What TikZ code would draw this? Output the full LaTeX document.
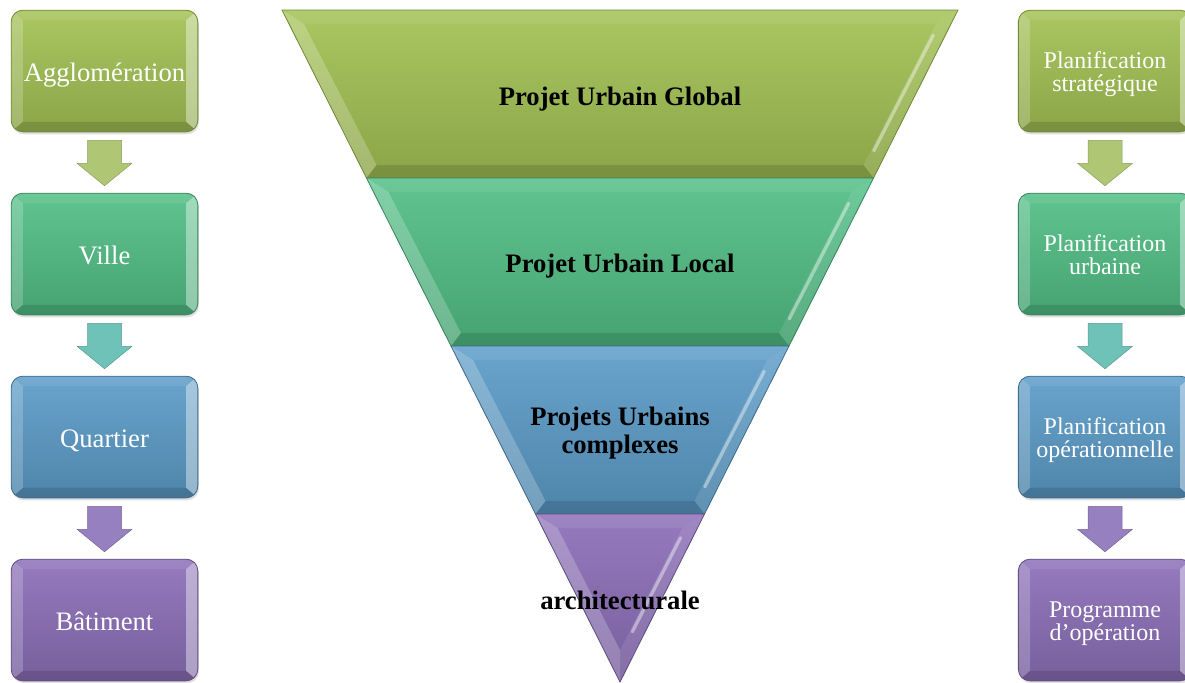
\documentclass[tikz,border=0pt]{standalone}
\usepackage{fontspec}
\setmainfont{Liberation Serif}
\usetikzlibrary{calc}
\usetikzlibrary{shadows}
\usepackage{xcolor}

\definecolor{cLime}{HTML}{A3C254}
\definecolor{cGreen}{HTML}{52BF86}
\definecolor{cBlue}{HTML}{5C9CC8}
\definecolor{cPurple}{HTML}{8C6FB8}
\definecolor{aLime}{HTML}{AFC774}
\definecolor{aTeal}{HTML}{6EC2B8}
\definecolor{aPurple}{HTML}{9680C0}

\tikzset{
  bevelbox/.style={draw=#1!70!black, line width=0.5pt, rounded corners=7pt,
    top color=#1!92!white, bottom color=#1!85!black,
    drop shadow={opacity=0.25, shadow xshift=0.6pt, shadow yshift=-1.5pt},
    minimum width=112pt, minimum height=73pt, inner sep=0pt,
    text height=14pt, text depth=1.4pt,
    align=center, text=white, font=\fontsize{16}{17}\selectfont,
    path picture={
      \coordinate (nw) at (path picture bounding box.north west);
      \coordinate (ne) at (path picture bounding box.north east);
      \coordinate (sw) at (path picture bounding box.south west);
      \coordinate (se) at (path picture bounding box.south east);
      \fill [sharp corners, white, opacity=0.2] (nw) -- ($(nw)+(7pt,-6pt)$)
        -- ($(sw)+(7pt,6pt)$) -- (sw) -- cycle;
      \fill [sharp corners, white, opacity=0.4] (ne) -- ($(ne)+(-7pt,-6pt)$)
        -- ($(se)+(-7pt,6pt)$) -- (se) -- cycle;
      \fill [sharp corners, white, opacity=0.08] (nw) -- (ne)
        -- ($(ne)+(-7pt,-6pt)$) -- ($(nw)+(7pt,-6pt)$) -- cycle;
      \fill [sharp corners, black, opacity=0.12] (sw) -- (se)
        -- ($(se)+(-7pt,6pt)$) -- ($(sw)+(7pt,6pt)$) -- cycle;
    }},
  rightbox/.style={bevelbox=#1, minimum width=104pt,
    text height=26.6pt, text depth=2pt,
    font=\fontsize{14.4}{13.6}\selectfont},
  blockarrow/.style={fill=#1, draw=#1!80!black, line width=0.3pt, line join=round},
  tritext/.style={align=center, text=black,
    font=\fontsize{16}{16.5}\selectfont\bfseries},
  glint/.style={white, opacity=0.4, line width=2pt, line cap=round},
}

\begin{document}
\begin{tikzpicture}[x=0.6pt, y=-0.6pt]
      \useasboundingbox (0,0) rectangle (1185,682);

      % funnel
      \coordinate (apex) at (620,682);
      \coordinate (tl) at (282,10);
      \coordinate (tr) at (958,10);

      \foreach \i/\col in {0/cLime, 1/cGreen, 2/cBlue} {
        \pgfmathsetmacro\a{\i/4}
        \pgfmathsetmacro\b{(\i+1)/4}
        \coordinate (otl) at ($(tl)!\a!(apex)$);
        \coordinate (otr) at ($(tr)!\a!(apex)$);
        \coordinate (obl) at ($(tl)!\b!(apex)$);
        \coordinate (obr) at ($(tr)!\b!(apex)$);
        \coordinate (itl) at ($(otl)+(22,14)$);
        \coordinate (itr) at ($(otr)+(-22,14)$);
        \coordinate (ibl) at ($(obl)+(10,-13)$);
        \coordinate (ibr) at ($(obr)+(-10,-13)$);

        \path [top color=\col!92!white, bottom color=\col!85!black]
          (otl) -- (otr) -- (obr) -- (obl) -- cycle;
        \fill [white, opacity=0.22] (otl) -- (itl) -- (ibl) -- (obl) -- cycle;
        \fill [white, opacity=0.1] (otr) -- (itr) -- (ibr) -- (obr) -- cycle;
        \fill [white, opacity=0.08] (otl) -- (otr) -- (itr) -- (itl) -- cycle;
        \fill [black, opacity=0.12] (obl) -- (obr) -- (ibr) -- (ibl) -- cycle;
        \draw [glint] ($(itr)!0.08!(ibr)+(3,0)$) -- ($(itr)!0.9!(ibr)+(3,0)$);
        \draw [\col!70!black, line width=0.5pt] (otl) -- (otr) -- (obr) -- (obl) -- cycle;
      }

      % tip of the funnel
      \coordinate (otl) at ($(tl)!0.75!(apex)$);
      \coordinate (otr) at ($(tr)!0.75!(apex)$);
      \coordinate (itl) at ($(otl)+(22,14)$);
      \coordinate (itr) at ($(otr)+(-22,14)$);
      \coordinate (iap) at ($(apex)+(0,-32)$);
      \path [top color=cPurple!92!white, bottom color=cPurple!85!black]
        (otl) -- (otr) -- (apex) -- cycle;
      \fill [white, opacity=0.22] (otl) -- (itl) -- (iap) -- (apex) -- cycle;
      \fill [white, opacity=0.1] (otr) -- (itr) -- (iap) -- (apex) -- cycle;
      \fill [white, opacity=0.08] (otl) -- (otr) -- (itr) -- (itl) -- cycle;
      \draw [glint] ($(itr)!0.08!(iap)+(3,0)$) -- ($(itr)!0.85!(iap)+(3,0)$);
      \draw [cPurple!70!black, line width=0.5pt] (otl) -- (otr) -- (apex) -- cycle;

      \node [tritext, name=global] at (620,99) {Projet Urbain Global};
      \node [tritext, name=local] at (620,266) {Projet Urbain Local};
      \node [tritext, name=complexes] at (620,433) {Projets Urbains\\complexes};
      \node [tritext, name=archi] at (620,600) {architecturale};

      % left column
      \node [bevelbox=cLime, name=agglo] at (104.5,71) {Agglomération};
      \node [bevelbox=cGreen, name=ville] at (104.5,254) {Ville};
      \node [bevelbox=cBlue, name=quartier] at (104.5,437) {Quartier};
      \node [bevelbox=cPurple, name=batiment] at (104.5,620) {Bâtiment};

      % right column
      \node [rightbox=cLime, name=strat] at (1105,71) {Planification\\stratégique};
      \node [rightbox=cGreen, name=urbaine] at (1105,254) {Planification\\urbaine};
      \node [rightbox=cBlue, name=operation] at (1105,437) {Planification\\opérationnelle};
      \node [rightbox=cPurple, name=programme] at (1105,620) {Programme\\d’opération};

      % arrows
      \foreach \from/\to/\col in {agglo/ville/aLime, ville/quartier/aTeal,
          quartier/batiment/aPurple, strat/urbaine/aLime,
          urbaine/operation/aTeal, operation/programme/aPurple} {
        \draw [blockarrow=\col] ($(\from.south)+(-17,8)$) -- ++(34,0) -- ++(0,23)
          -- ++(10.5,0) -- ($(\to.north)+(0,-7)$) -- ($(\from.south)+(-27.5,31)$)
          -- ++(10.5,0) -- cycle;
      }
    \end{tikzpicture}
\end{document}
